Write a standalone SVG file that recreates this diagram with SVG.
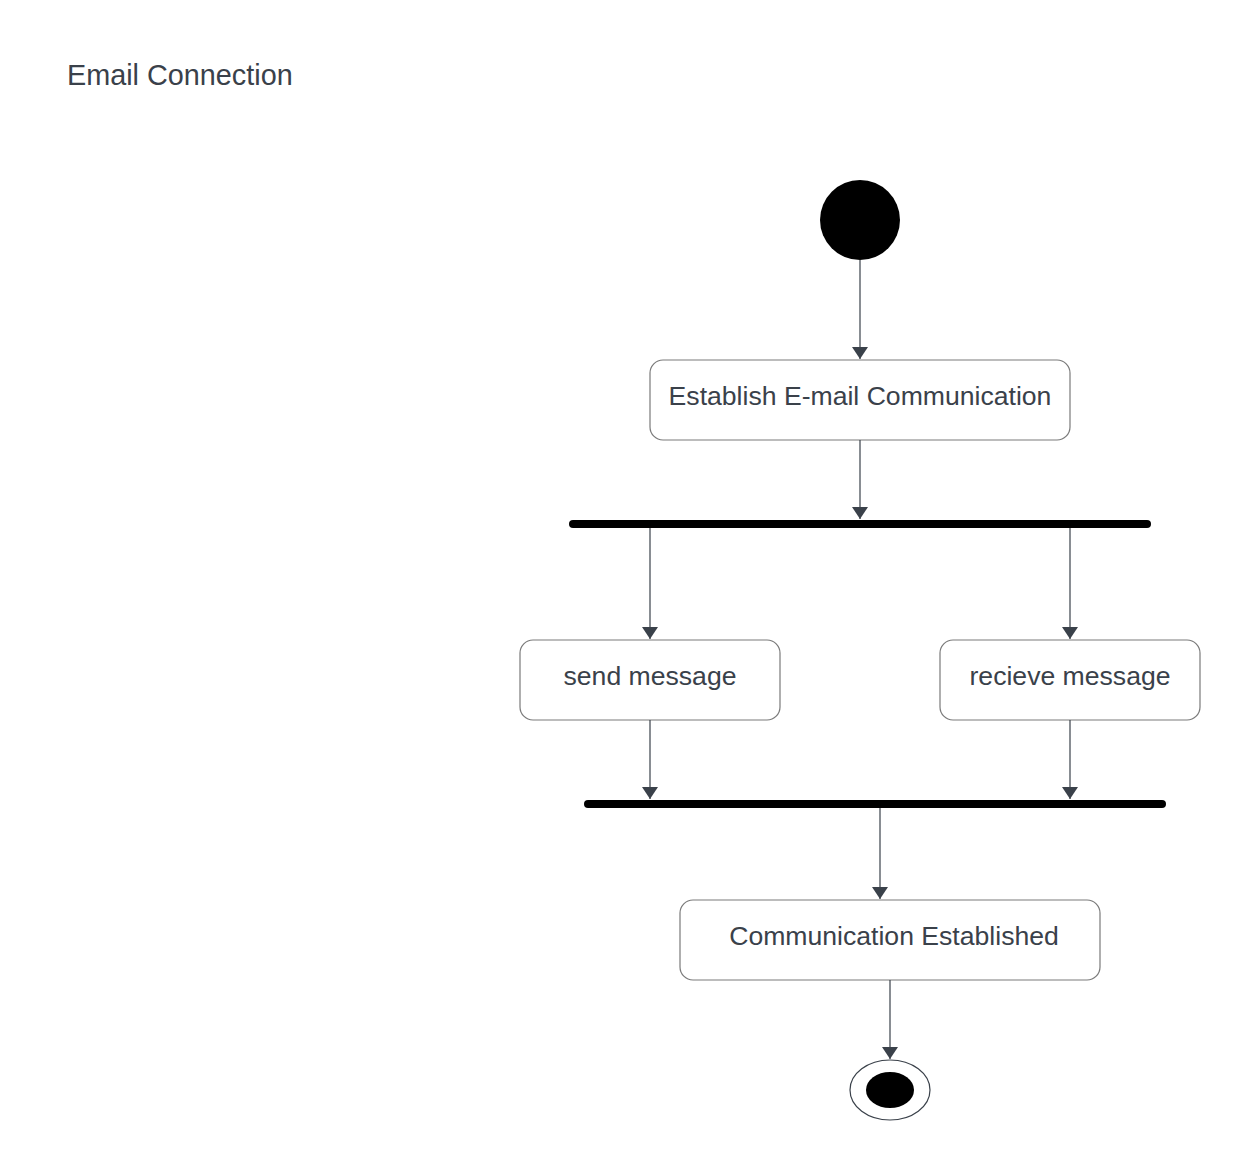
<svg xmlns="http://www.w3.org/2000/svg" width="1240" height="1160" viewBox="0 0 1240 1160">
<style>
.box{fill:#fff;stroke:#7a7a7a;stroke-width:1.2}
.lbl{font-family:"Liberation Sans",Arial,sans-serif;font-size:26.6px;fill:#3a414a;text-anchor:middle}
.title{font-family:"Liberation Sans",Arial,sans-serif;font-size:28.8px;fill:#3a414a}
.edge{stroke:#3a414a;stroke-width:1.2;fill:none;marker-end:url(#arr)}
.bar{stroke:#000;stroke-width:8;stroke-linecap:round}
</style>
<defs>
<marker id="arr" viewBox="0 0 12 16" refX="12" refY="8" markerWidth="12" markerHeight="16" markerUnits="userSpaceOnUse" orient="auto">
<path d="M0,0 L12,8 L0,16 Z" fill="#3a414a"/>
</marker>
</defs>
<rect width="1240" height="1160" fill="#fff"/>
<text class="title" x="67" y="85">Email Connection</text>
<g id="start"><circle cx="860" cy="220" r="40" fill="#000"/></g>
<g id="establish"><rect class="box" x="650" y="360" width="420" height="80" rx="13"/><text class="lbl" x="860" y="405">Establish E-mail Communication</text></g>
<g id="fork"><line class="bar" x1="573" y1="524" x2="1147" y2="524"/></g>
<g id="send"><rect class="box" x="520" y="640" width="260" height="80" rx="13"/><text class="lbl" x="650" y="685">send message</text></g>
<g id="recieve"><rect class="box" x="940" y="640" width="260" height="80" rx="13"/><text class="lbl" x="1070" y="685">recieve message</text></g>
<g id="join"><line class="bar" x1="588" y1="804" x2="1162" y2="804"/></g>
<g id="established"><rect class="box" x="680" y="900" width="420" height="80" rx="13"/><text class="lbl" x="894" y="945">Communication Established</text></g>
<g id="end"><ellipse cx="890" cy="1090" rx="40" ry="30" fill="#fff" stroke="#3a414a" stroke-width="1.2"/><ellipse cx="890" cy="1090" rx="24" ry="18" fill="#000"/></g>
<g id="connectors">
<line class="edge" x1="860" y1="260" x2="860" y2="359"/>
<line class="edge" x1="860" y1="440" x2="860" y2="519"/>
<line class="edge" x1="650" y1="528" x2="650" y2="639"/>
<line class="edge" x1="1070" y1="528" x2="1070" y2="639"/>
<line class="edge" x1="650" y1="720" x2="650" y2="799"/>
<line class="edge" x1="1070" y1="720" x2="1070" y2="799"/>
<line class="edge" x1="880" y1="808" x2="880" y2="899"/>
<line class="edge" x1="890" y1="980" x2="890" y2="1059"/>
</g>
</svg>
